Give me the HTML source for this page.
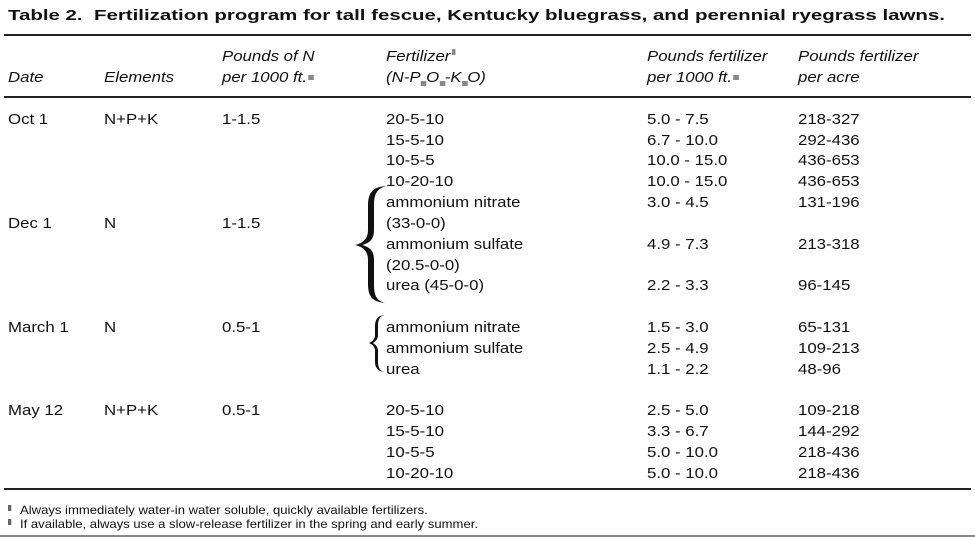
<!DOCTYPE html>
<html><head><meta charset="utf-8"><style>
body{margin:0;width:975px;height:537px;background:#fff;position:relative;overflow:hidden;font-family:"Liberation Sans",Arial,sans-serif;color:#111}
.t{position:absolute;font-size:15px;line-height:18px;white-space:nowrap;transform:scaleX(1.12);transform-origin:0 0}
.i{font-style:italic}
.r{position:absolute;left:4px;width:967px;background:#222}
.s{display:inline-block;width:5px;height:5px;background:#888;vertical-align:2px;margin-left:1px}
.sb{display:inline-block;width:5px;height:5px;background:#888;vertical-align:-4px}
.f{position:absolute;left:8px;font-size:12px;line-height:14px;white-space:nowrap;transform:scaleX(1.09);transform-origin:0 0}
.fm{display:inline-block;width:3px;height:6px;background:#666;margin-right:8px;vertical-align:3px}
</style></head><body>
<div class="t" style="left:8px;top:7px;font-weight:bold;font-size:14.5px;transform:scaleX(1.41)">Table 2.&nbsp; Fertilization program for tall fescue, Kentucky bluegrass, and perennial ryegrass lawns.</div>
<div class="r" style="top:34px;height:2px"></div>
<div class="t i" style="left:222px;top:48px">Pounds of N</div>
<div class="t i" style="left:386px;top:48px">Fertilizer<span class="s" style="width:3px;height:6px;vertical-align:6px"></span></div>
<div class="t i" style="left:647px;top:48px">Pounds fertilizer</div>
<div class="t i" style="left:798px;top:48px">Pounds fertilizer</div>
<div class="t i" style="left:8px;top:69px">Date</div>
<div class="t i" style="left:104px;top:69px">Elements</div>
<div class="t i" style="left:222px;top:69px">per 1000 ft.<span class="s"></span></div>
<div class="t i" style="left:386px;top:69px">(N-P<span class="sb"></span>O<span class="sb"></span>-K<span class="sb"></span>O)</div>
<div class="t i" style="left:647px;top:69px">per 1000 ft.<span class="s"></span></div>
<div class="t i" style="left:798px;top:69px">per acre</div>
<div class="r" style="top:96px;height:2px"></div>

<div class="t" style="left:8px;top:111px">Oct 1</div>
<div class="t" style="left:104px;top:111px">N+P+K</div>
<div class="t" style="left:222px;top:111px">1-1.5</div>
<div class="t" style="left:386px;top:111px">20-5-10</div><div class="t" style="left:647px;top:111px">5.0 - 7.5</div><div class="t" style="left:798px;top:111px">218-327</div>
<div class="t" style="left:386px;top:132px">15-5-10</div><div class="t" style="left:647px;top:132px">6.7 - 10.0</div><div class="t" style="left:798px;top:132px">292-436</div>
<div class="t" style="left:386px;top:152px">10-5-5</div><div class="t" style="left:647px;top:152px">10.0 - 15.0</div><div class="t" style="left:798px;top:152px">436-653</div>
<div class="t" style="left:386px;top:173px">10-20-10</div><div class="t" style="left:647px;top:173px">10.0 - 15.0</div><div class="t" style="left:798px;top:173px">436-653</div>
<div class="t" style="left:386px;top:194px">ammonium nitrate</div><div class="t" style="left:647px;top:194px">3.0 - 4.5</div><div class="t" style="left:798px;top:194px">131-196</div>
<div class="t" style="left:8px;top:215px">Dec 1</div>
<div class="t" style="left:104px;top:215px">N</div>
<div class="t" style="left:222px;top:215px">1-1.5</div>
<div class="t" style="left:386px;top:215px">(33-0-0)</div>
<div class="t" style="left:386px;top:236px">ammonium sulfate</div><div class="t" style="left:647px;top:236px">4.9 - 7.3</div><div class="t" style="left:798px;top:236px">213-318</div>
<div class="t" style="left:386px;top:257px">(20.5-0-0)</div>
<div class="t" style="left:386px;top:277px">urea (45-0-0)</div><div class="t" style="left:647px;top:277px">2.2 - 3.3</div><div class="t" style="left:798px;top:277px">96-145</div>

<div class="t" style="left:8px;top:319px">March 1</div>
<div class="t" style="left:104px;top:319px">N</div>
<div class="t" style="left:222px;top:319px">0.5-1</div>
<div class="t" style="left:386px;top:319px">ammonium nitrate</div><div class="t" style="left:647px;top:319px">1.5 - 3.0</div><div class="t" style="left:798px;top:319px">65-131</div>
<div class="t" style="left:386px;top:340px">ammonium sulfate</div><div class="t" style="left:647px;top:340px">2.5 - 4.9</div><div class="t" style="left:798px;top:340px">109-213</div>
<div class="t" style="left:386px;top:361px">urea</div><div class="t" style="left:647px;top:361px">1.1 - 2.2</div><div class="t" style="left:798px;top:361px">48-96</div>

<div class="t" style="left:8px;top:402px">May 12</div>
<div class="t" style="left:104px;top:402px">N+P+K</div>
<div class="t" style="left:222px;top:402px">0.5-1</div>
<div class="t" style="left:386px;top:402px">20-5-10</div><div class="t" style="left:647px;top:402px">2.5 - 5.0</div><div class="t" style="left:798px;top:402px">109-218</div>
<div class="t" style="left:386px;top:423px">15-5-10</div><div class="t" style="left:647px;top:423px">3.3 - 6.7</div><div class="t" style="left:798px;top:423px">144-292</div>
<div class="t" style="left:386px;top:444px">10-5-5</div><div class="t" style="left:647px;top:444px">5.0 - 10.0</div><div class="t" style="left:798px;top:444px">218-436</div>
<div class="t" style="left:386px;top:465px">10-20-10</div><div class="t" style="left:647px;top:465px">5.0 - 10.0</div><div class="t" style="left:798px;top:465px">218-436</div>

<svg style="position:absolute;left:0;top:0" width="975" height="537">
<path d="M386 186 C372 187 368 193 368 206 L368 230 C368 238 364 243 355 245 C364 247 368 252 368 260 L368 284 C368 296 372 302 386 303 C376 301 374 295 374 284 L374 260 C374 251 370 247 362 245 C370 243 374 239 374 230 L374 206 C374 195 376 189 386 186 Z" fill="#111"/>
<path d="M384 315 C377 316 375 320 375 327 L375 335 C375 339 373 341 369 343 C373 345 375 347 375 351 L375 361 C375 367 377 371 384 372 C379 370 378 367 378 361 L378 351 C378 347 376 345 373 343 C376 341 378 339 378 335 L378 327 C378 320 379 317 384 315 Z" fill="#111"/>
</svg>

<div class="r" style="top:488px;height:2px"></div>
<div class="f" style="top:503px"><span class="fm"></span>Always immediately water-in water soluble, quickly available fertilizers.</div>
<div class="f" style="top:517px"><span class="fm"></span>If available, always use a slow-release fertilizer in the spring and early summer.</div>
<div style="position:absolute;left:0;top:535px;width:975px;height:2px;background:#888"></div>
</body></html>
